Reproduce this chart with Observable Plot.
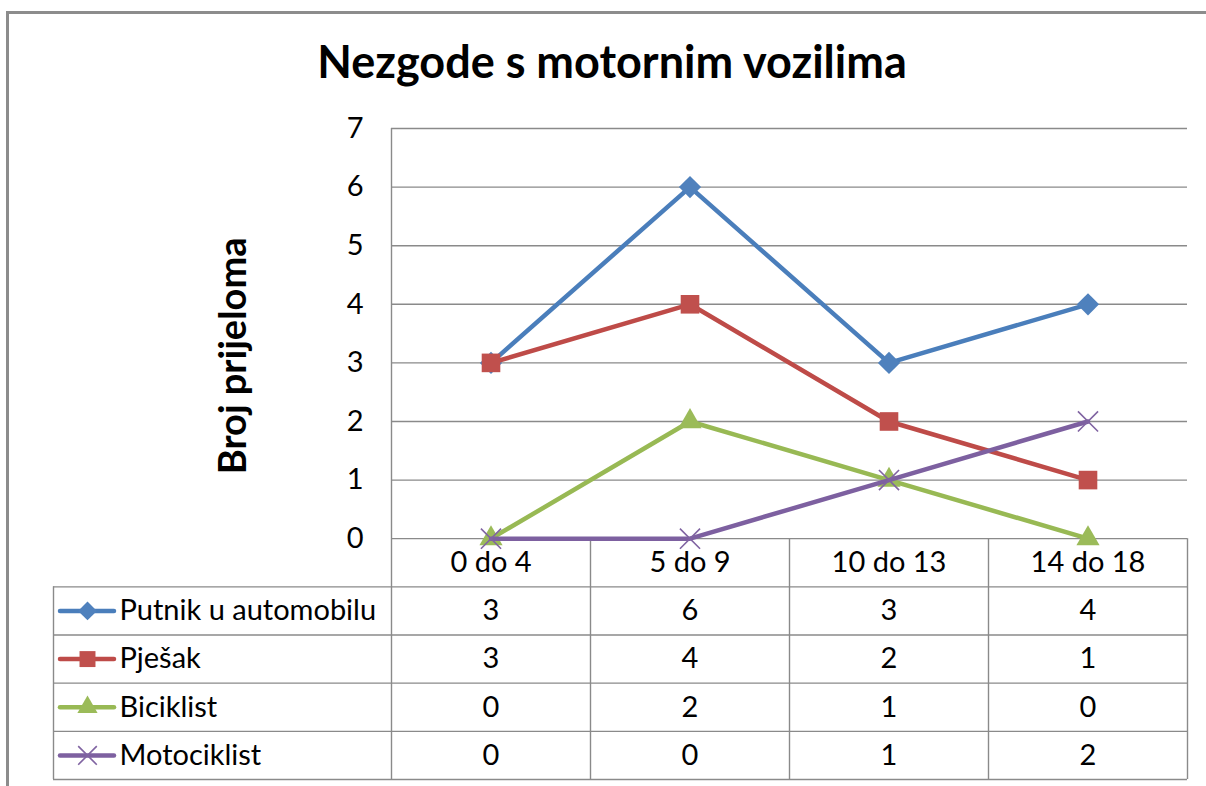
<!DOCTYPE html>
<html><head><meta charset="utf-8">
<script src="https://cdn.jsdelivr.net/npm/d3@7"></script>
<script src="https://cdn.jsdelivr.net/npm/@observablehq/plot@0.6"></script>
<style>
body{margin:0;background:#fff;font-family:Lato, "Open Sans", sans-serif;}
#wrap{position:relative;width:1206px;height:786px;overflow:hidden;background:#fff;}
#frame{position:absolute;left:6px;top:11px;width:1260px;height:900px;border:3px solid #8c8c8c;box-sizing:border-box;}
#title{position:absolute;left:0;width:1224px;top:39px;text-align:center;font-weight:bold;font-size:45px;line-height:1;color:#000;}
#chart{position:absolute;left:0;top:100px;}
</style>
</head><body>
<div id="wrap"><div id="frame"></div><div id="title">Nezgode s motornim vozilima</div><div id="chart"></div></div>
<script>
const categories = ["0 do 4", "5 do 9", "10 do 13", "14 do 18"];
const seriesNames = ["Putnik u automobilu", "Pješak", "Biciklist", "Motociklist"];
const putnik = [3, 6, 3, 4];
const pjesak = [3, 4, 2, 1];
const biciklist = [0, 2, 1, 0];
const motociklist = [0, 0, 1, 2];
const yTicks = [0, 1, 2, 3, 4, 5, 6, 7];
const yTitle = "Broj prijeloma";

const seriesValues = [putnik, pjesak, biciklist, motociklist];
const lineColors = ["#4a7ebb", "#be4b48", "#98b954", "#7d60a0"];
const markColors = ["#4f81bd", "#c0504d", "#9bbb59", "#8064a2"];
const symbols = ["diamond2", "square", "triangle", "times"];
const radii = [10, 10.5, 8.6, 9.2];
const legendRadii = [8.5, 9, 7.5, 8.5];

const rowH = 4.11 / 5;
const bottom = -5 * rowH;
const half = 99.5;
const grid = "#8a8a8a";
const fs = 29;

const marks = [];
// gridlines
marks.push(Plot.ruleY(yTicks, {stroke: grid, strokeWidth: 1.4}));
// table horizontal lines
marks.push(Plot.ruleY([1, 2, 3, 4, 5].map(k => -k * rowH), {stroke: grid, strokeWidth: 1.4, insetLeft: -338}));
// column separators
marks.push(Plot.ruleX(categories.slice(1), {dx: -half, y1: 0, y2: bottom, stroke: grid, strokeWidth: 1.4}));
marks.push(Plot.ruleX([categories[3]], {dx: half, y1: 0, y2: bottom, stroke: grid, strokeWidth: 1.4}));
marks.push(Plot.ruleX([categories[0]], {dx: -half, y1: 7, y2: bottom, stroke: grid, strokeWidth: 1.4}));
marks.push(Plot.ruleX([categories[0]], {dx: -437.5, y1: -rowH, y2: bottom, stroke: grid, strokeWidth: 1.4}));

// series lines and markers
seriesNames.forEach((name, s) => {
  const data = categories.map((c, i) => ({cat: c, v: seriesValues[s][i]}));
  marks.push(Plot.line(data, {x: "cat", y: "v", stroke: lineColors[s], strokeWidth: 4.5, strokeLinejoin: "round", strokeLinecap: "round"}));
  const isStroke = symbols[s] === "times";
  marks.push(Plot.dot(data, {x: "cat", y: "v", symbol: () => symbols[s], r: radii[s],
    fill: isStroke ? "none" : markColors[s], stroke: isStroke ? markColors[s] : "none", strokeWidth: isStroke ? 1.6 : 0}));
});

// table header
marks.push(Plot.text(categories, {x: d => d, y: -rowH / 2, fontSize: fs, fill: "#000"}));
// table rows
seriesNames.forEach((name, s) => {
  const yc = -(s + 1.5) * rowH;
  marks.push(Plot.text(categories, {x: d => d, y: yc, text: (d, i) => String(seriesValues[s][i]), fontSize: fs, fill: "#000"}));
  marks.push(Plot.ruleY([yc], {stroke: lineColors[s], strokeWidth: 4.5, strokeLinecap: "round", insetLeft: -331, insetRight: 1073}));
  const isStroke = symbols[s] === "times";
  marks.push(Plot.dot([yc], {y: d => d, frameAnchor: "left", dx: -304, symbol: () => symbols[s], r: legendRadii[s],
    fill: isStroke ? "none" : markColors[s], stroke: isStroke ? markColors[s] : "none", strokeWidth: isStroke ? 1.6 : 0}));
  marks.push(Plot.text([name], {y: () => yc, frameAnchor: "left", dx: -272, textAnchor: "start", fontSize: fs, fill: "#000"}));
});

// y axis
marks.push(Plot.axisY(yTicks, {tickSize: 0, tickPadding: 28, fontSize: fs, label: null, fill: "#000", tickFormat: d => String(d)}));
marks.push(Plot.text([yTitle], {y: () => 3.12, frameAnchor: "left", dx: -158, textAnchor: "middle", rotate: -90, fontSize: 38, fontWeight: "bold", fill: "#000"}));

const chart = Plot.plot({
  width: 1206,
  height: 686,
  marginLeft: 391,
  marginRight: 19,
  marginTop: 28,
  marginBottom: 7,
  style: {fontFamily: "Lato, 'Open Sans', sans-serif", background: "transparent", overflow: "visible"},
  x: {type: "point", domain: categories, padding: 0.5, round: false, axis: null},
  y: {type: "linear", domain: [bottom, 7], axis: null},
  marks
});
document.getElementById("chart").appendChild(chart);
</script>
</body></html>
